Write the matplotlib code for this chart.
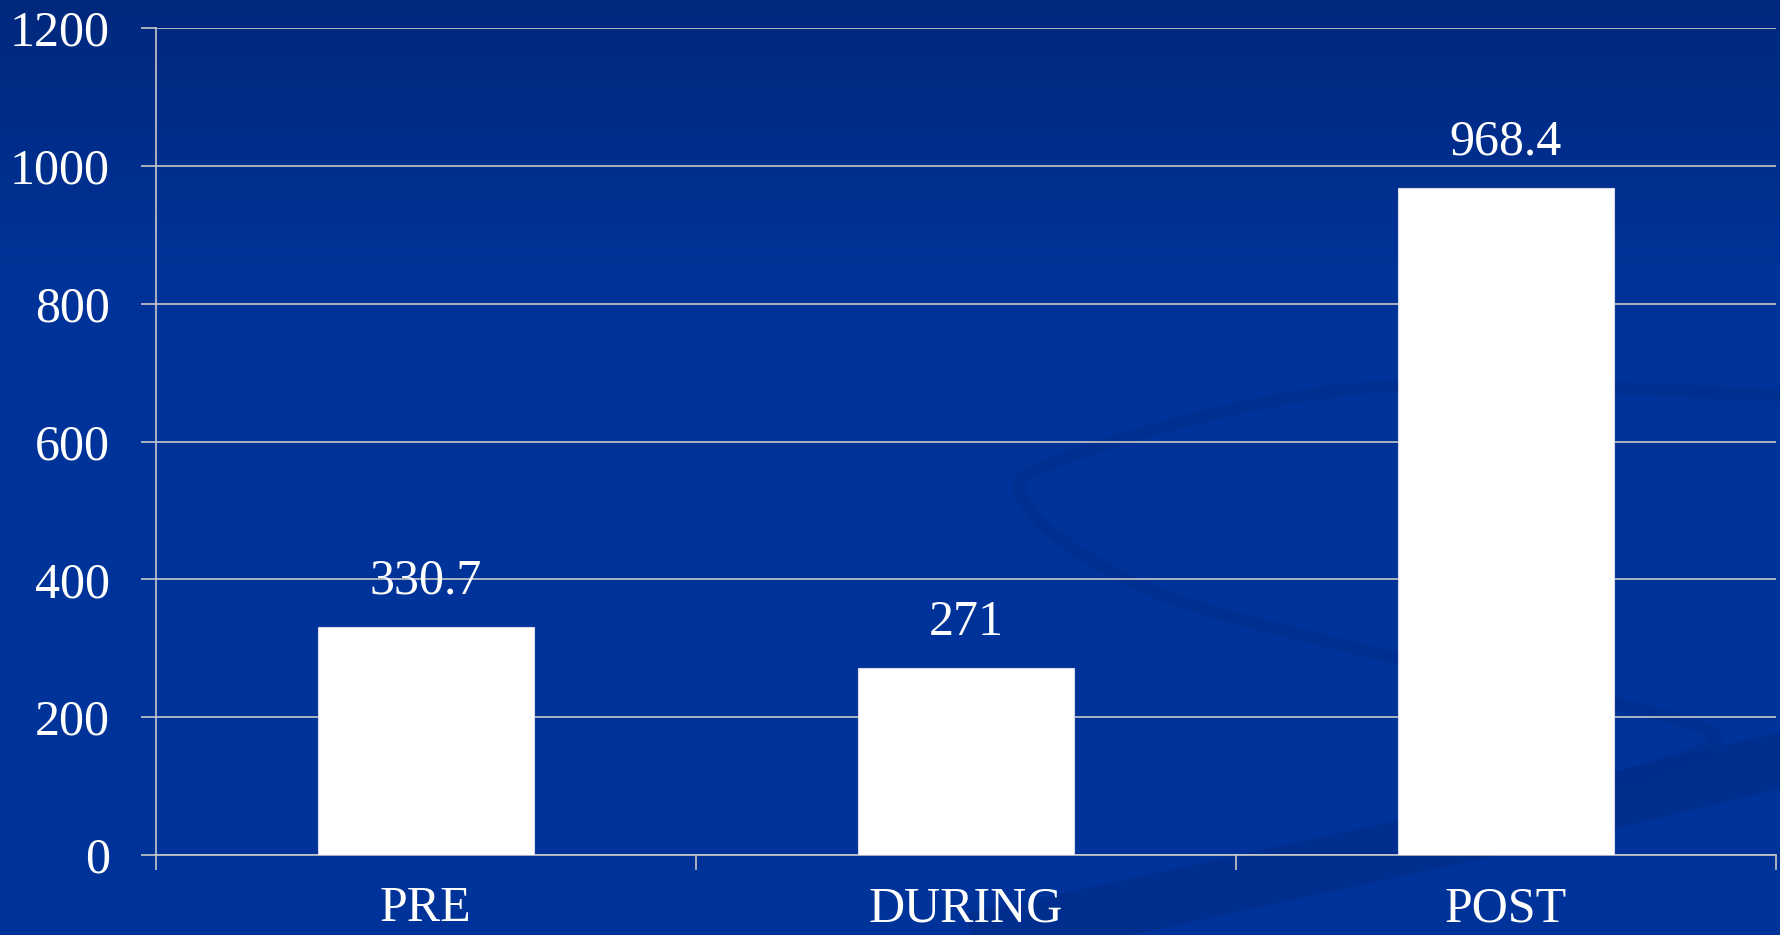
import numpy as np
import matplotlib
matplotlib.use("Agg")
import matplotlib.pyplot as plt

# data
categories = ["PRE", "DURING", "POST"]
values = [330.7, 271, 968.4]
value_labels = ["330.7", "271", "968.4"]
yticks = [0, 200, 400, 600, 800, 1000, 1200]

W, H = 1781, 935
plt.rcParams['font.family'] = ['Liberation Serif', 'DejaVu Serif']

fig = plt.figure(figsize=(W / 100, H / 100), dpi=100)

# background: dark blue gradient + faint swoosh
bg = fig.add_axes([0, 0, 1, 1], zorder=-10)
top = np.array([0, 40, 125]) / 255
mid = np.array([0, 51, 153]) / 255
t = np.clip(np.linspace(0, 1, 200) / 0.3, 0, 1)[:, None]
grad = top * (1 - t) + mid * t
bg.imshow(grad[:, None, :].repeat(2, axis=1), aspect="auto", extent=[0, W, H, 0])
bg.set_xlim(0, W)
bg.set_ylim(H, 0)
bg.axis("off")


def catmull(pts, n=40):
    pts = np.asarray(pts, float)
    pts = np.vstack([pts[0], pts, pts[-1]])
    out = []
    for i in range(1, len(pts) - 2):
        p0, p1, p2, p3 = pts[i - 1], pts[i], pts[i + 1], pts[i + 2]
        s = np.linspace(0, 1, n)[:, None]
        out.append(0.5 * (2 * p1 + (-p0 + p2) * s + (2 * p0 - 5 * p1 + 4 * p2 - p3) * s ** 2
                          + (-p0 + 3 * p1 - 3 * p2 + p3) * s ** 3))
    return np.vstack(out)


swirl = catmull([(1781, 395), (1363, 388), (1060, 460), (1030, 510), (1150, 590),
                 (1363, 650), (1600, 700), (1715, 735), (1660, 765), (1590, 785)])
bg.plot(swirl[:, 0], swirl[:, 1], color="#002c8a", lw=9, alpha=0.45, solid_capstyle="round")
band = catmull([(1000, 935), (1300, 870), (1550, 815), (1781, 760)])
bg.plot(band[:, 0], band[:, 1], color="#002a85", lw=40, alpha=0.5)

ax = fig.add_axes([155.6 / W, 80 / H, (1776 - 155.6) / W, (907 - 80) / H])
ax.patch.set_alpha(0)

x = np.arange(len(categories))
ax.bar(x, values, width=0.4, color="white", edgecolor="#d8d8e8", linewidth=0.8, zorder=3)
for xi, v, lab in zip(x, values, value_labels):
    ax.annotate(lab, (xi, v), xytext=(0, 16), textcoords="offset points",
                ha="center", va="bottom", color="white", fontsize=36, zorder=4)

ax.set_xlim(-0.5, len(categories) - 0.5)
ax.set_ylim(0, 1200)
ax.set_yticks(yticks)
ax.set_yticklabels([str(v) for v in yticks])
ax.yaxis.grid(True, color="#c8c8c8", linewidth=1.2, zorder=1)
ax.set_axisbelow(True)

ax.set_xticks(x)
ax.set_xticklabels(categories)
ax.set_xticks(np.arange(len(categories) + 1) - 0.5, minor=True)
ax.tick_params(axis="x", which="major", length=0, pad=22, labelsize=36, labelcolor="white")
ax.tick_params(axis="x", which="minor", length=11, width=1.2, color="#c8c8c8")
ax.tick_params(axis="y", length=11, width=1.2, color="#c8c8c8", pad=22,
               labelsize=36, labelcolor="white")

for s in ["top", "right"]:
    ax.spines[s].set_visible(False)
ax.spines["left"].set_color("#c8c8c8")
ax.spines["bottom"].set_color("#c8c8c8")
ax.spines["left"].set_linewidth(1.2)
ax.spines["bottom"].set_linewidth(1.2)
ax.spines["left"].set_bounds(0, 1200)

fig.savefig("out.png", dpi=100)
